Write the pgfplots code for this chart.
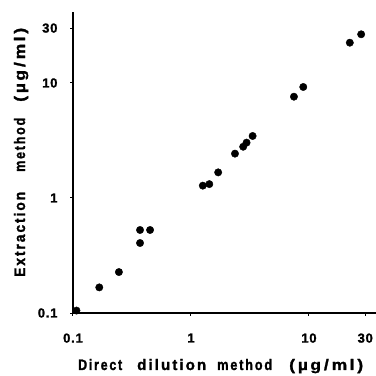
\documentclass[border=0pt]{standalone}
\usepackage{pgfplots}
\pgfplotsset{compat=1.18}
\usepackage{fontspec}
\usepackage{graphicx}
\setmainfont{Liberation Sans}
\newfontfamily\labfont[LetterSpace=14,FakeBold=1.5]{Liberation Sans}
\newfontfamily\tickfont[LetterSpace=6,FakeBold=1.5]{Liberation Sans}
\newcommand{\lw}[2]{\resizebox{#1}{11pt}{\labfont\bfseries #2}}
\begin{document}
\begin{tikzpicture}
\path[use as bounding box] (0,0) rectangle (376pt,376pt);
\begin{axis}[
 at={(73pt,63pt)}, anchor=south west,
 scale only axis, width=303pt, height=301pt,
 xmode=log, ymode=log,
 xmin=0.1, xmax=37, ymin=0.1, ymax=41.4,
 axis lines=left, axis line style={-, line width=1.8pt},
 xtick={0.1,1,10,30}, xticklabels={0.1,1,10,30},
 ytick={0.1,1,10,30}, yticklabels={0.1,1,10,30},
 minor xtick={}, minor ytick={},
 tick align=outside, major tick length=3pt, tick style={line width=1pt, black},
 ticklabel style={font=\tickfont\bfseries\fontsize{13}{15}\selectfont},
 /pgf/number format/assume math mode=true,
 xticklabel style={yshift=-14pt},
 yticklabel style={xshift=-9pt},
]
\addplot[only marks, mark=*, mark size=3.7pt, black] coordinates {
(0.107,0.105)
(0.167,0.167)
(0.245,0.227)
(0.37,0.527)
(0.37,0.406)
(0.45,0.527)
(1.26,1.28)
(1.43,1.32)
(1.70,1.67)
(2.36,2.43)
(2.77,2.79)
(2.96,3.03)
(3.33,3.46)
(7.46,7.60)
(8.95,9.23)
(22.2,22.4)
(27.7,26.5)
};
\end{axis}
% x label
\node[anchor=base west, inner sep=0pt] at (78pt,6pt) {\lw{44pt}{Direct}};
\node[anchor=base west, inner sep=0pt] at (137pt,6pt) {\lw{69pt}{dilution}};
\node[anchor=base west, inner sep=0pt] at (217pt,6pt) {\lw{55pt}{method}};
\node[anchor=base west, inner sep=0pt] at (289pt,6pt) {\lw{74pt}{(\,µg\,/\,ml\,)}};
% y label
\node[anchor=base west, rotate=90, inner sep=0pt] at (25pt,99pt) {\lw{85pt}{Extraction}};
\node[anchor=base west, rotate=90, inner sep=0pt] at (25pt,204pt) {\lw{54pt}{method}};
\node[anchor=base west, rotate=90, inner sep=0pt] at (25pt,274pt) {\lw{74pt}{(\,µg\,/\,ml\,)}};
\end{tikzpicture}
\end{document}
